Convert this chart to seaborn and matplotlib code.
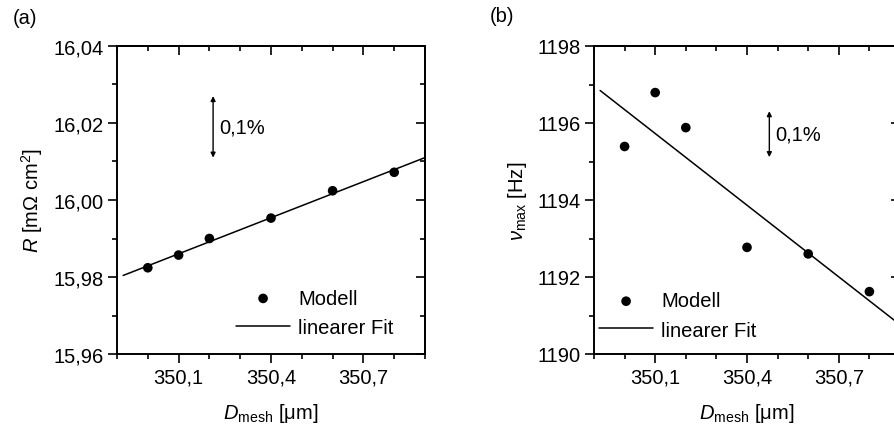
import numpy as np
import matplotlib
matplotlib.use('Agg')
import matplotlib.pyplot as plt
import matplotlib.ticker as mticker
import seaborn as sns

# Daten
d_mesh = [350.0, 350.1, 350.2, 350.4, 350.6, 350.8]
r_model = [15.9824, 15.9857, 15.9900, 15.9953, 16.0024, 16.0072]
nu_model = [1195.39, 1196.79, 1195.88, 1192.77, 1192.60, 1191.62]
fit_range = [349.92, 350.9]
x_major = [350.1, 350.4, 350.7]

sns.set_style('ticks')
plt.rcParams['font.family'] = ['Liberation Sans', 'DejaVu Sans']
plt.rcParams['mathtext.fontset'] = 'custom'
plt.rcParams['mathtext.rm'] = 'Liberation Sans'
plt.rcParams['mathtext.it'] = 'Liberation Sans:italic'
plt.rcParams['font.size'] = 14.5
plt.rcParams['axes.linewidth'] = 1.4
plt.rcParams['text.color'] = 'black'
plt.rcParams['axes.labelcolor'] = 'black'
plt.rcParams['xtick.color'] = 'black'
plt.rcParams['ytick.color'] = 'black'

FS = 14.5


def comma_fmt(dec):
    return mticker.FuncFormatter(lambda v, pos: f'{v:.{dec}f}'.replace('.', ','))


def style_ticks(ax, axis, direction, labels):
    ax.tick_params(axis=axis, which='major', direction=direction, length=6.5, width=1.2,
                   colors='black', labelsize=FS, pad=3)
    ax.tick_params(axis=axis, which='minor', direction=direction, length=3.5, width=1.2,
                   colors='black')
    if not labels:
        ax.tick_params(axis=axis, which='both', labelbottom=False, labeltop=False,
                       labelleft=False, labelright=False)


def draw_panel(ax, y, ylim, ymajor, yminor, ydec, ylabel, arrow_x, arrow_c, legend_anchor):
    slope, icpt = np.polyfit(d_mesh, y, 1)
    fx = np.array(fit_range)
    sns.scatterplot(x=d_mesh, y=y, ax=ax, color='black', s=48, edgecolor='none',
                    label='Modell', zorder=3)
    sns.lineplot(x=fx, y=slope * fx + icpt, ax=ax, color='black', linewidth=1.1,
                 label='linearer Fit')

    ax.set_xlim(349.9, 350.9)
    ax.set_ylim(*ylim)
    ax.xaxis.set_major_locator(mticker.FixedLocator(x_major))
    ax.xaxis.set_minor_locator(mticker.MultipleLocator(0.1))
    ax.xaxis.set_major_formatter(comma_fmt(1))
    ax.yaxis.set_major_locator(mticker.MultipleLocator(ymajor))
    ax.yaxis.set_minor_locator(mticker.MultipleLocator(yminor))
    ax.yaxis.set_major_formatter(comma_fmt(ydec))
    style_ticks(ax, 'x', 'out', True)
    style_ticks(ax, 'y', 'out', True)

    # Ticks oben/rechts nach innen
    top = ax.secondary_xaxis('top')
    top.xaxis.set_major_locator(mticker.FixedLocator(x_major))
    top.xaxis.set_minor_locator(mticker.MultipleLocator(0.1))
    style_ticks(top, 'x', 'in', False)
    right = ax.secondary_yaxis('right')
    right.yaxis.set_major_locator(mticker.MultipleLocator(ymajor))
    right.yaxis.set_minor_locator(mticker.MultipleLocator(yminor))
    style_ticks(right, 'y', 'in', False)

    for sp in ax.spines.values():
        sp.set_visible(True)
        sp.set_color('black')

    ax.set_xlabel(r'$D_{\mathrm{mesh}}$ [μm]', fontsize=FS, labelpad=11)
    ax.set_ylabel(ylabel, fontsize=FS, labelpad=6)

    # Pfeil 0,1%
    half = 0.0005 * np.mean(y)
    ax.annotate('', xy=(arrow_x, arrow_c + half), xytext=(arrow_x, arrow_c - half),
                arrowprops=dict(arrowstyle='<|-|>', color='black', lw=1.0,
                                mutation_scale=7, shrinkA=0, shrinkB=0))
    ax.text(arrow_x + 0.02, arrow_c, '0,1%', fontsize=FS, va='center', ha='left')

    ax.legend(loc='upper left', bbox_to_anchor=legend_anchor, frameon=False,
              fontsize=FS, handlelength=2.7, handletextpad=0.4, borderpad=0,
              borderaxespad=0, labelspacing=0.5, markerscale=1.0)


fig = plt.figure(figsize=(8.95, 4.35), dpi=100)
ax1 = fig.add_axes([117 / 895, 1 - 355 / 435, 308 / 895, 308 / 435])
ax2 = fig.add_axes([594 / 895, 1 - 355 / 435, 306 / 895, 308 / 435])

draw_panel(ax1, r_model, (15.96, 16.04), 0.02, 0.01, 2,
           r'$R$ [mΩ cm$^{2}$]', 350.212, 16.019, (0.386, 0.212))
draw_panel(ax2, nu_model, (1190, 1198), 2, 1, 0,
           r'$\nu_{\mathrm{max}}$ [Hz]', 350.473, 1195.71, (0.016, 0.203))

fig.text(13 / 895, 1 - 18 / 435, '(a)', fontsize=FS, va='center', ha='left')
fig.text(490 / 895, 1 - 17 / 435, '(b)', fontsize=FS, va='center', ha='left')

fig.savefig('out.png', dpi=100)
plt.close(fig)
